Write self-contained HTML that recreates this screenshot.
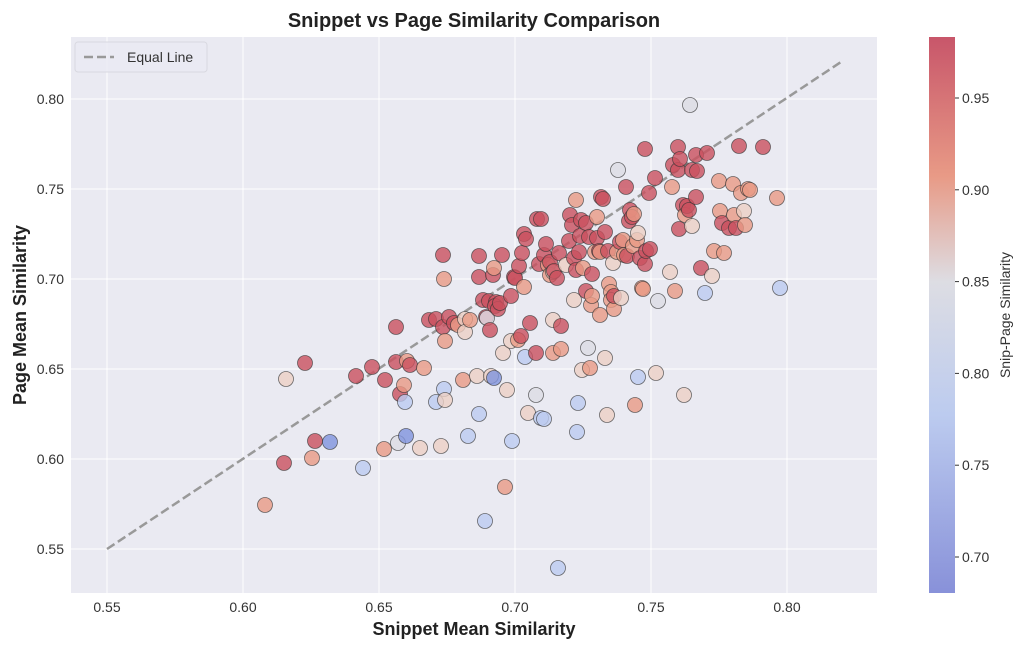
<!DOCTYPE html>
<html><head><meta charset="utf-8"><style>
body{margin:0;background:#fff;font-family:"Liberation Sans",sans-serif;}
svg text{font-family:"Liberation Sans",sans-serif;}
</style></head><body>
<svg id="s" width="1024" height="649" xmlns="http://www.w3.org/2000/svg">
<defs><linearGradient id="cb" x1="0" y1="0" x2="0" y2="1">
<stop offset="0" stop-color="#c8566a"/>
<stop offset="0.25" stop-color="#e89a86"/>
<stop offset="0.44" stop-color="#dddde3"/>
<stop offset="0.68" stop-color="#bccbef"/>
<stop offset="1" stop-color="#8891d9"/>
</linearGradient></defs>
<text x="474" y="27" font-size="20" font-weight="bold" text-anchor="middle" fill="#222">Snippet vs Page Similarity Comparison</text>
<rect x="71" y="37" width="806" height="556" fill="#eaeaf2"/>
<g id="grid" stroke="#fff" stroke-width="1"></g>
<line x1="107" y1="549" x2="841" y2="62" stroke="#999" stroke-width="2.5" stroke-dasharray="9,4"/>
<g id="pts"></g>
<rect x="75" y="42" width="132" height="30" rx="3" fill="#eaeaf2" fill-opacity="0.8" stroke="#d8d8e0"/>
<line x1="84" y1="57" x2="114" y2="57" stroke="#999" stroke-width="2.5" stroke-dasharray="9,4"/>
<text x="127" y="62" font-size="14" fill="#333">Equal Line</text>
<g id="ticks" font-size="14" fill="#333"></g>
<text x="474" y="635" font-size="18" font-weight="bold" text-anchor="middle" fill="#222">Snippet Mean Similarity</text>
<text transform="translate(26,315) rotate(-90)" font-size="18" font-weight="bold" text-anchor="middle" fill="#222">Page Mean Similarity</text>
<rect x="929" y="37" width="26" height="556" fill="url(#cb)"/>
<text transform="translate(1010,315) rotate(-90)" font-size="14" text-anchor="middle" fill="#333">Snip-Page Similarity</text>
</svg>
<script>
var ns="http://www.w3.org/2000/svg",s=document.getElementById('s');
function el(p,t,a,tx){var e=document.createElementNS(ns,t);for(var k in a)e.setAttribute(k,a[k]);if(tx)e.textContent=tx;document.getElementById(p).appendChild(e);}
var xs=[0.55,0.60,0.65,0.70,0.75,0.80];
xs.forEach(function(v,i){var x=107+i*136;el('grid','line',{x1:x,y1:37,x2:x,y2:593});el('ticks','text',{x:x,y:612,'text-anchor':'middle'},v.toFixed(2));});
for(var i=0;i<6;i++){var y=549-i*90;el('grid','line',{x1:71,y1:y,x2:877,y2:y});el('ticks','text',{x:64,y:y+5,'text-anchor':'end'},(0.55+i*0.05).toFixed(2));}
for(var i=0;i<6;i++){var y=557-i*91.8;el('ticks','line',{x1:955,y1:y,x2:959,y2:y,stroke:'#333'});el('ticks','text',{x:962,y:y+5},(0.70+i*0.05).toFixed(2));}
var C={r:'#c9505e',s:'#e89a84',p:'#ecd0c4',g:'#dcdce4',b:'#bccbf0',B:'#7f93dd'};
var d="265,505,s 284,463,r 286,379,p 305,363,r 312,458,s 315,441,r 330,442,B 356,376,r 363,468,b 372,367,r 385,380,r 384,449,s 396,327,r 396,362,r 400,394,r 398,443,g 405,402,b 404,385,s 406,436,B 407,361,s 410,365,r 420,448,p 424,368,s 429,320,r 436,402,b 436,319,r 441,446,p 443,327,r 445,341,s 444,389,b 445,400,p 443,255,r 444,279,s 449,317,r 454,323,r 458,325,s 463,380,s 465,319,p 465,332,p 468,436,b 470,320,s 477,376,p 479,256,r 479,277,r 479,414,b 483,300,r 486,317,r 487,318,g 489,301,r 490,330,r 491,376,p 485,521,b 494,378,B 493,275,r 494,268,s 496,302,r 495,306,r 498,309,r 500,303,r 502,255,r 503,353,p 505,487,s 507,390,p 511,341,p 512,441,b 511,296,r 514,277,r 515,278,r 518,340,s 519,266,r 521,336,r 522,253,r 524,287,s 525,357,b 524,234,r 526,239,r 528,413,p 530,323,r 536,395,g 536,353,r 537,219,r 539,264,r 541,219,r 541,418,b 544,419,b 544,255,r 546,244,r 548,265,s 550,262,r 550,275,s 553,272,p 553,320,p 553,353,s 554,271,r 557,278,r 559,253,r 558,568,b 561,349,s 561,326,r 566,265,p 569,241,r 570,215,r 572,225,r 574,300,p 574,258,r 576,200,s 576,270,r 577,432,b 578,403,b 579,252,r 580,236,r 581,220,r 582,370,p 583,268,s 586,291,r 586,223,r 588,348,g 589,237,r 590,368,s 591,305,s 592,274,r 592,296,s 595,252,s 597,217,s 597,238,r 599,251,r 600,315,s 600,252,s 601,197,r 603,199,r 605,232,r 605,358,p 607,415,p 608,251,r 609,284,s 611,292,s 611,300,s 613,263,p 614,309,s 614,296,r 617,252,s 618,170,g 620,242,r 621,298,p 623,240,s 624,255,s 626,187,r 627,256,r 629,221,r 630,210,r 632,217,r 633,246,s 634,214,s 635,405,s 637,240,s 638,233,p 638,377,b 640,258,r 642,288,s 643,289,s 645,149,r 645,264,r 646,251,r 649,193,r 650,249,r 655,178,r 656,373,p 658,301,g 670,272,p 672,187,s 673,165,r 675,291,s 678,170,r 678,147,r 680,159,r 679,229,r 683,205,r 684,395,p 685,215,s 687,206,r 689,210,r 690,105,g 692,226,p 692,170,r 696,155,r 696,197,r 697,171,r 701,268,r 705,293,b 707,153,r 712,276,p 714,251,s 719,181,s 720,211,s 722,223,r 724,253,s 729,228,r 733,184,s 734,215,s 736,228,r 739,146,r 741,193,s 744,211,p 745,225,s 748,189,s 750,190,s 763,147,r 777,198,s 780,288,b";
d.split(' ').forEach(function(t){var a=t.split(',');el('pts','circle',{cx:a[0],cy:a[1],r:7.5,fill:C[a[2]],'fill-opacity':0.8,stroke:'#333','stroke-opacity':0.7,'stroke-width':0.8});});
</script>
</body></html>
